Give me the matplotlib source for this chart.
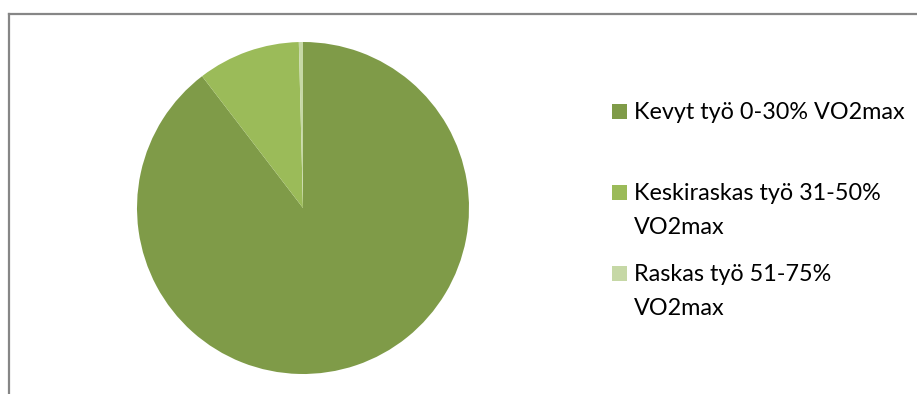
import matplotlib.pyplot as plt
from matplotlib.patches import Rectangle
from matplotlib.lines import Line2D

# tyon kuormittavuus (osuudet, %)
labels = ['Kevyt työ 0-30% VO2max',
          'Keskiraskas työ 31-50%\nVO2max',
          'Raskas työ 51-75%\nVO2max']
values = [89.6, 10.0, 0.4]
colors = ['#7F9B48', '#9BBB59', '#C6D8A6']

W, H = 917, 394
fig = plt.figure(figsize=(W / 100, H / 100), dpi=100)

# kehys (vain vasen ja yla reuna nakyy)
fig.add_artist(Line2D([8.5 / W, 1], [1 - 13.5 / H, 1 - 13.5 / H], color='#868686', lw=1.6))
fig.add_artist(Line2D([8.5 / W, 8.5 / W], [0, 1 - 13.5 / H], color='#868686', lw=1.6))

# piirakka: keskipiste (303, 208), sade 166 px
cx, cy, r = 303, 208, 166
ax = fig.add_axes([(cx - r) / W, (H - cy - r) / H, 2 * r / W, 2 * r / H])
ax.pie(values, colors=colors, startangle=90, counterclock=False,
       wedgeprops=dict(linewidth=0))
ax.set_xlim(-1, 1)
ax.set_ylim(-1, 1)
ax.axis('off')

# selite
baselines = [119, 200, 281]
line_gap = 34
for lab, col, b in zip(labels, colors, baselines):
    fig.add_artist(Rectangle((612 / W, 1 - b / H), 15 / W, 15 / H,
                             transform=fig.transFigure, facecolor=col, edgecolor='none'))
    for i, line in enumerate(lab.split('\n')):
        fig.text(634 / W, 1 - (b + i * line_gap) / H, line, fontsize=16.8,
                 family='Lato', va='baseline', ha='left', color='#000000')

fig.savefig('out.png', dpi=100)
